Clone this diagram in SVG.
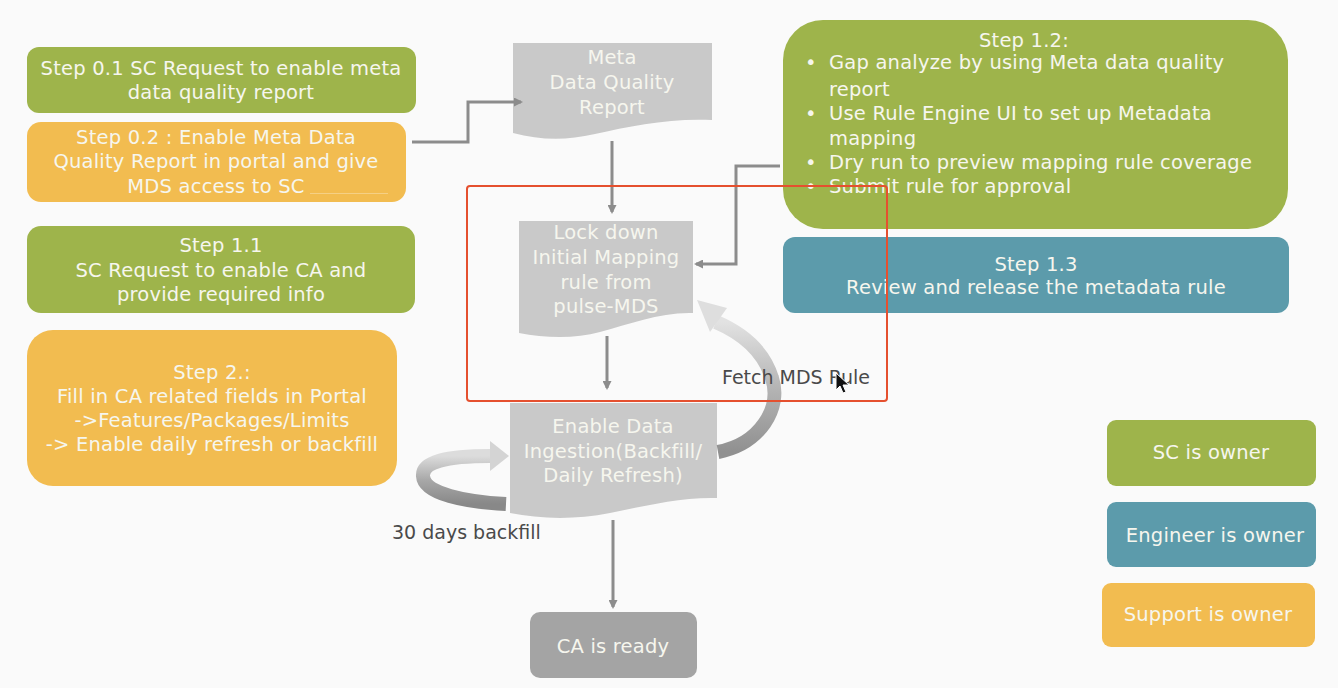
<svg xmlns="http://www.w3.org/2000/svg" width="1338" height="688" viewBox="0 0 1338 688">
<style>
.t{font-family:"DejaVu Sans","Liberation Sans",sans-serif;font-size:19.5px;letter-spacing:0.2px;fill:#f6f6ee;text-anchor:middle}
.tl{font-family:"DejaVu Sans","Liberation Sans",sans-serif;font-size:19.5px;letter-spacing:0.2px;fill:#f6f6ee}
.lbl{font-family:"DejaVu Sans","Liberation Sans",sans-serif;font-size:19px;fill:#4a4a4a}
.green{fill:#9eb44b}
.orange{fill:#f2bc50}
.teal{fill:#5c9bab}
.doc{fill:#c9c9c9}
.con{fill:none;stroke:#8c8c8c;stroke-width:3}
</style>
<defs>
<marker id="ah" markerWidth="9" markerHeight="9" refX="7" refY="4.5" orient="auto" markerUnits="userSpaceOnUse" viewBox="0 0 9 9">
<path d="M0,0 L9,4.5 L0,9 Z" fill="#8c8c8c"/>
</marker>
<linearGradient id="gf" x1="0" y1="1" x2="0" y2="0">
<stop offset="0" stop-color="#909090"/>
<stop offset="0.5" stop-color="#b5b5b5"/>
<stop offset="1" stop-color="#e2e2e2"/>
</linearGradient>
<linearGradient id="gb" x1="0" y1="1" x2="0" y2="0">
<stop offset="0" stop-color="#888888"/>
<stop offset="0.5" stop-color="#a8a8a8"/>
<stop offset="1" stop-color="#dcdcdc"/>
</linearGradient>
</defs>
<rect width="1338" height="688" fill="#fafafa"/>

<g id="step01">
<rect class="green" x="27" y="47" width="389" height="66" rx="12"/>
<text class="t" x="221" y="75">Step 0.1 SC Request to enable meta</text>
<text class="t" x="221" y="99">data quality report</text>
</g>

<g id="step02">
<rect class="orange" x="27" y="122" width="379" height="80" rx="14"/>
<text class="t" x="216" y="144">Step 0.2 : Enable Meta Data</text>
<text class="t" x="216" y="168">Quality Report in portal and give</text>
<text class="t" x="216" y="193">MDS access to SC</text>
<line x1="310" y1="193.5" x2="388" y2="193.5" stroke="#ffffff" stroke-width="1" opacity="0.3"/>
</g>

<g id="step11">
<rect class="green" x="27" y="226" width="388" height="87" rx="14"/>
<text class="t" x="221" y="252">Step 1.1</text>
<text class="t" x="221" y="277">SC Request to enable CA and</text>
<text class="t" x="221" y="301">provide required info</text>
</g>

<g id="step2">
<rect class="orange" x="27" y="330" width="370" height="156" rx="26"/>
<text class="t" x="212" y="379">Step 2.:</text>
<text class="t" x="212" y="403">Fill in CA related fields in Portal</text>
<text class="t" x="212" y="427">-&gt;Features/Packages/Limits</text>
<text class="t" x="212" y="451">-&gt; Enable daily refresh or backfill</text>
</g>

<g id="meta-report">
<path class="doc" d="M513,43 H712 V120 C670,118 630,126 595,134 C565,141 540,140 513,133 Z"/>
<text class="t" x="612" y="64">Meta</text>
<text class="t" x="612" y="89">Data Quality</text>
<text class="t" x="612" y="114">Report</text>
</g>

<g id="lock-down">
<path class="doc" d="M519,221 H693 V313 C660,312 630,324 600,332 C575,339 545,338 519,333 Z"/>
<text class="t" x="606" y="239">Lock down</text>
<text class="t" x="606" y="264">Initial Mapping</text>
<text class="t" x="606" y="289">rule from</text>
<text class="t" x="606" y="313">pulse-MDS</text>
</g>

<g id="enable-ingestion">
<path class="doc" d="M510,403 H717 V498 C680,497 645,506 610,513 C575,520 540,519 510,513 Z"/>
<text class="t" x="613" y="433">Enable Data</text>
<text class="t" x="613" y="458">Ingestion(Backfill/</text>
<text class="t" x="613" y="482">Daily Refresh)</text>
</g>

<g id="ca-ready">
<rect x="530" y="612" width="167" height="66" rx="10" fill="#a4a4a4"/>
<text class="t" x="613" y="653">CA is ready</text>
</g>

<g id="step12">
<rect class="green" x="783" y="20" width="505" height="209" rx="40"/>
<text class="t" x="1024" y="47">Step 1.2:</text>
<text class="tl" x="805" y="69">•</text>
<text class="tl" x="829" y="69">Gap analyze by using Meta data quality</text>
<text class="tl" x="829" y="96">report</text>
<text class="tl" x="805" y="120">•</text>
<text class="tl" x="829" y="120">Use Rule Engine UI to set up Metadata</text>
<text class="tl" x="829" y="145">mapping</text>
<text class="tl" x="805" y="169">•</text>
<text class="tl" x="829" y="169">Dry run to preview mapping rule coverage</text>
<text class="tl" x="805" y="193">•</text>
<text class="tl" x="829" y="193">Submit rule for approval</text>
</g>

<g id="step13">
<rect class="teal" x="783" y="237" width="506" height="76" rx="12"/>
<text class="t" x="1036" y="271">Step 1.3</text>
<text class="t" x="1036" y="294">Review and release the metadata rule</text>
</g>

<g id="legend-sc">
<rect class="green" x="1107" y="420" width="209" height="66" rx="9"/>
<text class="t" x="1211" y="459">SC is owner</text>
</g>
<g id="legend-eng">
<rect class="teal" x="1107" y="502" width="209" height="65" rx="9"/>
<text class="t" x="1215" y="542">Engineer is owner</text>
</g>
<g id="legend-sup">
<rect class="orange" x="1102" y="583" width="213" height="64" rx="9"/>
<text class="t" x="1208" y="621">Support is owner</text>
</g>

<g id="connectors">
<path class="con" d="M412,142 H468 V102 H521" marker-end="url(#ah)"/>
<path class="con" d="M612,141 V212" marker-end="url(#ah)"/>
<path class="con" d="M780,166 H736 V264 H696" marker-end="url(#ah)"/>
<path class="con" d="M607,336 V388" marker-end="url(#ah)"/>
<path class="con" d="M613,520 V607" marker-end="url(#ah)"/>
<g id="fetch-arrow">
<path d="M718,452 C760,444 782,408 772,378 C764,352 744,334 716,322" fill="none" stroke="url(#gf)" stroke-width="14"/>
<path d="M697,300 L727,308 L710,332 Z" fill="#dedede"/>
</g>
<g id="backfill-arrow">
<path d="M506,504 C466,502 424,494 423,476 C422,462 446,456 490,456" fill="none" stroke="url(#gb)" stroke-width="14"/>
<path d="M490,441 L509,456 L490,471 Z" fill="#d4d4d4"/>
</g>
</g>

<g id="labels">
<text class="lbl" x="722" y="384">Fetch MDS Rule</text>
<text class="lbl" x="392" y="539">30 days backfill</text>
</g>

<rect id="highlight" x="467" y="186" width="420" height="215" rx="3" fill="none" stroke="#e5502f" stroke-width="2"/>

<path id="cursor" d="M836,373 L836,390 L840,386 L843,393 L846,392 L843,385 L849,385 Z" fill="#111" stroke="#fff" stroke-width="1"/>
</svg>
